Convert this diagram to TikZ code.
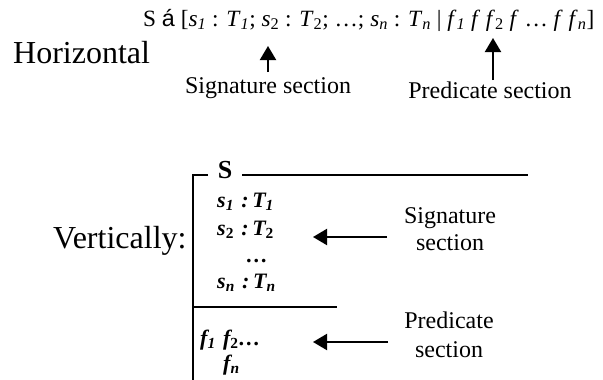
\documentclass[tikz,border=0pt]{standalone}
\usepackage{fontspec}
\setmainfont{Liberation Serif}
\newfontfamily\sansf{Liberation Sans}
\usetikzlibrary{arrows.meta}
\newcommand\iv[1]{\textit{#1}}
\newcommand\sbi[1]{\textsubscript{\textit{#1}}}
\begin{document}
\begin{tikzpicture}[x=1pt,y=-1pt,
  big/.style={font=\fontsize{32}{38}\selectfont, inner sep=0pt, anchor=base west},
  lab/.style={font=\fontsize{24}{29}\selectfont, inner sep=0pt, anchor=base},
  form/.style={font=\fontsize{23.3}{28}\selectfont, inner sep=0pt, anchor=base west},
  entry/.style={font=\fontsize{22}{26}\selectfont\bfseries\itshape, inner sep=0pt, anchor=base west},
  frameline/.style={line width=1.5pt},
  arr/.style={line width=2pt, -{Triangle[length=14pt,width=16pt]}}]
\useasboundingbox (0,0) rectangle (603,380);
% horizontal form
\node[form] (formula) at (143,26) {S {\sansf á} [\iv{s}\sbi{1} : \iv{T}\sbi{1}; \iv{s}\textsubscript{2} : \iv{T}\textsubscript{2}; …; \iv{s}\sbi{n} : \iv{T}\sbi{n} | \iv{f}\sbi{1} \iv{f} \iv{f}\textsubscript{2} \iv{f} … \iv{f} \iv{f}\sbi{n}]};
\node[big] (horiz) at (13,63) {Horizontal};
\node[lab] (sigtop) at (268,93) {Signature section};
\node[lab] (predtop) at (490,98) {Predicate section};
\coordinate (sigtail) at (268,72);
\coordinate (sigtip) at (268,46);
\coordinate (predtail) at (493,80);
\coordinate (predtip) at (493,38);
\draw[arr] (sigtail) -- (sigtip);
\draw[arr] (predtail) -- (predtip);
% vertical form
\node[big] (vert) at (53,248) {Vertically:};
\node[font=\fontsize{26}{30}\selectfont\bfseries, inner sep=0pt, anchor=base] (boxS) at (225,178) {S};
\coordinate (tl) at (193,175);
\coordinate (bl) at (193,380);
\draw[frameline] (208,175) -- (tl) -- (bl);
\draw[frameline] (242,175) -- (528,175);
\draw[frameline] (193,307) -- (337,307);
\node[entry] (e1) at (217,207) {s\textsubscript{1}\,\,:\,T\textsubscript{1}};
\node[entry] (e2) at (217,235) {s\textsubscript{\upshape 2}\,\,:\,T\textsubscript{\upshape 2}};
\node[entry, anchor=base] (edots) at (257,262) {…};
\node[entry] (en) at (217,288) {s\textsubscript{n}\,\,:\,T\textsubscript{n}};
\node[entry] (f12) at (200,345) {f\textsubscript{1}\,\,f\textsubscript{\upshape 2}…};
\node[entry] (fn) at (223,370) {f\textsubscript{n}};
\node[lab] (sig1) at (450,223) {Signature};
\node[lab] (sig2) at (450,250) {section};
\node[lab] (pred1) at (449,328) {Predicate};
\node[lab] (pred2) at (449,357) {section};
\coordinate (sigarrtail) at (387,237);
\coordinate (sigarrtip) at (313,237);
\coordinate (predarrtail) at (388,342);
\coordinate (predarrtip) at (313,342);
\draw[arr] (sigarrtail) -- (sigarrtip);
\draw[arr] (predarrtail) -- (predarrtip);
\end{tikzpicture}
\end{document}
